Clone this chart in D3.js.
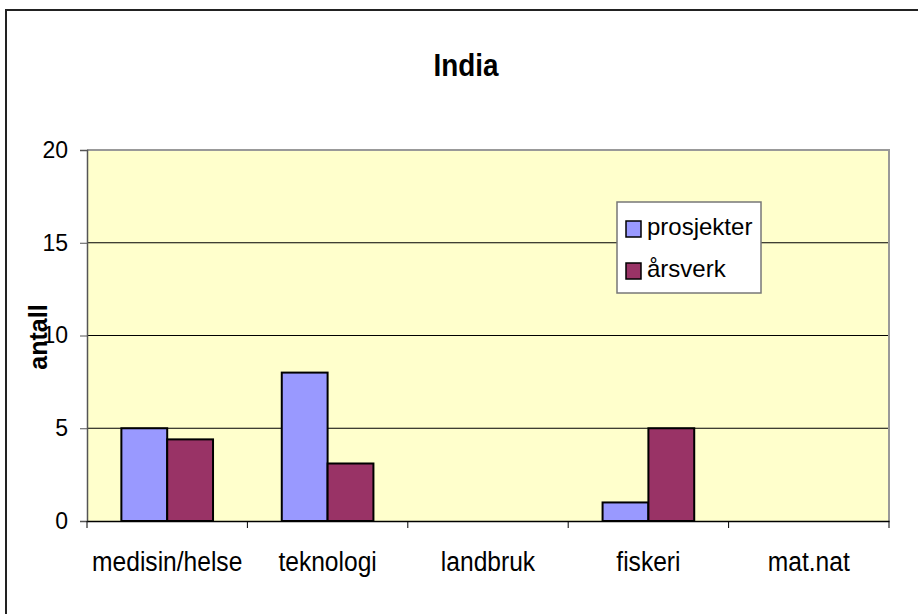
<!DOCTYPE html>
<html>
<head>
<meta charset="utf-8">
<script src="https://cdn.jsdelivr.net/npm/d3@7"></script>
<style>
  body { margin: 0; background: #fff; }
  svg text { font-family: "Liberation Sans", Arial, sans-serif; fill: #000; }
</style>
</head>
<body>
<div class="svg-container"></div>
<script>
var categories = ["medisin/helse", "teknologi", "landbruk", "fiskeri", "mat.nat"];
var seriesNames = ["prosjekter", "årsverk"];
var prosjekter = [5, 8, 0, 1, 0];
var aarsverk = [4.4, 3.1, 0, 5, 0];
var yTicks = [0, 5, 10, 15, 20];
var colors = ["#9999ff", "#993366"];

var fullWidth = 918,
    fullHeight = 614,
    margin = {top: 150, right: 29, bottom: 93, left: 87},
    width = fullWidth - margin.left - margin.right,
    height = fullHeight - margin.top - margin.bottom;

// squeeze text horizontally, the original fonts are a bit narrow
function squeeze(sel, k) {
  sel.each(function() {
    var w = this.getComputedTextLength();
    d3.select(this).attr("textLength", w * k).attr("lengthAdjust", "spacingAndGlyphs");
  });
}

var svg = d3.select(".svg-container")
  .append("svg")
  .attr("width", fullWidth)
  .attr("height", fullHeight);

// outer chart frame (runs off the right and bottom edge)
svg.append("rect")
  .attr("x", 6).attr("y", 10)
  .attr("width", 930).attr("height", 640)
  .attr("fill", "#fff")
  .attr("stroke", "#222")
  .attr("stroke-width", 2);

svg.append("text")
  .attr("x", 466).attr("y", 76)
  .attr("text-anchor", "middle")
  .style("font-size", "32px")
  .style("font-weight", "bold")
  .text("India")
  .call(squeeze, 0.87);

var g = svg.append("g")
  .attr("transform", "translate(" + margin.left + "," + margin.top + ")");

var x0 = d3.scaleBand().domain(categories).range([0, width]);
var barW = x0.bandwidth() / 3.5;   // gap width 150%
var x1 = d3.scaleBand().domain(seriesNames)
  .range([barW * 0.75, barW * 2.75]);
var y = d3.scaleLinear().domain([0, 20]).range([height, 0]);

g.append("rect")
  .attr("width", width).attr("height", height)
  .attr("fill", "#ffffcc");

// gridlines
g.selectAll(".grid")
  .data(yTicks.filter(function(d) { return d > 0 && d < 20; }))
  .enter().append("line")
  .attr("class", "grid")
  .attr("x1", 0).attr("x2", width)
  .attr("y1", function(d) { return y(d); })
  .attr("y2", function(d) { return y(d); })
  .attr("stroke", "#000").attr("stroke-width", 1);

// bars
var rows = categories.map(function(c, i) {
  return {cat: c, values: [prosjekter[i], aarsverk[i]]};
});

var groups = g.selectAll(".grp")
  .data(rows)
  .enter().append("g")
  .attr("transform", function(d) { return "translate(" + x0(d.cat) + ",0)"; });

groups.selectAll("rect")
  .data(function(d) {
    return d.values.map(function(v, j) { return {name: seriesNames[j], value: v, j: j}; })
      .filter(function(e) { return e.value > 0; });
  })
  .enter().append("rect")
  .attr("x", function(d) { return x1(d.name); })
  .attr("width", x1.bandwidth())
  .attr("y", function(d) { return y(d.value); })
  .attr("height", function(d) { return height - y(d.value); })
  .attr("fill", function(d) { return colors[d.j]; })
  .attr("stroke", "#000")
  .attr("stroke-width", 2);

// plot frame top/right
g.append("path")
  .attr("d", "M0,0H" + width + "V" + height)
  .attr("fill", "none")
  .attr("stroke", "#999")
  .attr("stroke-width", 2);

// y axis
var yAxis = g.append("g")
  .call(d3.axisLeft(y).tickValues(yTicks).tickSize(7).tickPadding(12));
yAxis.select(".domain").attr("stroke", "#555").attr("stroke-width", 1.5);
yAxis.selectAll(".tick line").attr("stroke", "#555");
yAxis.selectAll("text").style("font-size", "23px").attr("fill", "#000");

// x axis
var xAxis = g.append("g")
  .attr("transform", "translate(0," + height + ")")
  .call(d3.axisBottom(x0).tickSize(0).tickPadding(0));
xAxis.select(".domain").attr("stroke", "#000").attr("stroke-width", 1.5);
xAxis.selectAll("text")
  .attr("y", 50).attr("dy", null)
  .style("font-size", "27px")
  .call(squeeze, 0.91);

xAxis.selectAll(".sep")
  .data(categories.concat(["end"]))
  .enter().append("line")
  .attr("class", "sep")
  .attr("x1", function(d, i) { return i * x0.step(); })
  .attr("x2", function(d, i) { return i * x0.step(); })
  .attr("y1", 0).attr("y2", 7)
  .attr("stroke", "#000");

// y label
svg.append("text")
  .attr("transform", "translate(47,337) rotate(-90)")
  .attr("text-anchor", "middle")
  .style("font-size", "25px")
  .style("font-weight", "bold")
  .text("antall");

// legend
var legend = svg.append("g").attr("transform", "translate(617,202)");
legend.append("rect")
  .attr("width", 144).attr("height", 91)
  .attr("fill", "#fff")
  .attr("stroke", "#777")
  .attr("stroke-width", 1.5);

var items = legend.selectAll(".item")
  .data(seriesNames)
  .enter().append("g")
  .attr("transform", function(d, i) { return "translate(9," + (19 + i * 42) + ")"; });

items.append("rect")
  .attr("width", 15).attr("height", 16)
  .attr("fill", function(d, i) { return colors[i]; })
  .attr("stroke", "#000")
  .attr("stroke-width", 1.5);

items.append("text")
  .attr("x", 21).attr("y", 14)
  .style("font-size", "24px")
  .text(function(d) { return d; });
</script>
</body>
</html>
